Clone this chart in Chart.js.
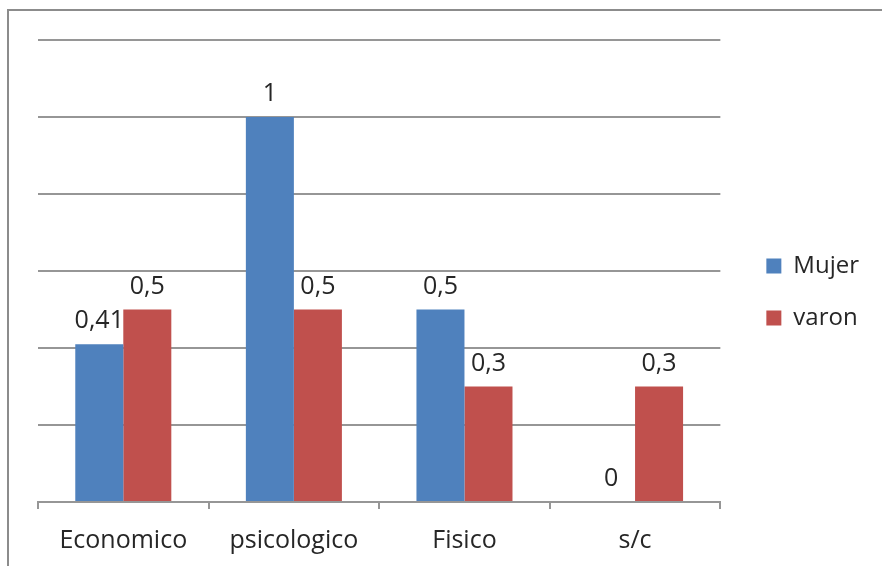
<!DOCTYPE html>
<html>
<head>
<meta charset="utf-8">
<script src="https://cdn.jsdelivr.net/npm/chart.js@4"></script>
<style>
  html, body { margin: 0; padding: 0; background: #fff; }
  #wrap { position: relative; width: 882px; height: 566px; overflow: hidden; }
  #frame { position: absolute; left: 7px; top: 9px; width: 900px; height: 600px;
           border-top: 2px solid #8c8c8c; border-left: 2px solid #8c8c8c; }
  canvas { position: absolute; left: 0; top: 0; }
</style>
</head>
<body>
<div id="wrap">
  <div id="frame"></div>
  <canvas id="myChart" width="882" height="566"></canvas>
</div>
<script>
const categories = ['Economico', 'psicologico', 'Fisico', 's/c'];
const mujer = [0.41, 1, 0.5, 0];
const varon = [0.5, 0.5, 0.3, 0.3];
const yTicks = [0, 0.2, 0.4, 0.6, 0.8, 1, 1.2];

const gridColor = '#969696';
const textColor = '#262626';
const fontFamily = '"Open Sans", "DejaVu Sans", sans-serif';

// write values above each bar, with a decimal comma
const valueLabels = {
  id: 'valueLabels',
  afterDatasetsDraw(chart) {
    const ctx = chart.ctx;
    ctx.save();
    ctx.font = '25px ' + fontFamily;
    ctx.fillStyle = textColor;
    ctx.textAlign = 'center';
    ctx.textBaseline = 'alphabetic';
    chart.data.datasets.forEach((ds, i) => {
      chart.getDatasetMeta(i).data.forEach((bar, j) => {
        const text = String(ds.data[j]).replace('.', ',');
        ctx.fillText(text, bar.x, bar.y - 16);
      });
    });
    ctx.restore();
  }
};

new Chart(document.getElementById('myChart').getContext('2d'), {
  type: 'bar',
  data: {
    labels: categories,
    datasets: [{
      label: 'Mujer',
      data: mujer,
      backgroundColor: '#4F81BD',
      borderWidth: 0
    }, {
      label: 'varon',
      data: varon,
      backgroundColor: '#C0504D',
      borderWidth: 0
    }]
  },
  options: {
    responsive: false,
    animation: false,
    datasets: {
      bar: { categoryPercentage: 0.563, barPercentage: 1 }
    },
    layout: {
      padding: { left: 38, right: 13, top: 40, bottom: 0 }
    },
    plugins: {
      tooltip: { enabled: false },
      legend: {
        position: 'right',
        fullSize: false,
        // empty title only pushes the items down a little
        title: { display: true, text: '', padding: 0, font: { size: 42, lineHeight: 1 } },
        labels: {
          boxWidth: 15,
          boxHeight: 15,
          padding: 28,
          color: textColor,
          font: { family: fontFamily, size: 24 }
        }
      }
    },
    scales: {
      x: {
        offset: true,
        grid: {
          drawOnChartArea: false,
          drawTicks: true,
          tickLength: 7,
          color: gridColor,
          lineWidth: 2
        },
        border: { display: true, color: gridColor, width: 2 },
        ticks: {
          padding: 29,
          maxRotation: 0,
          color: textColor,
          font: { family: fontFamily, size: 25, lineHeight: 0.25 }
        },
        afterFit: axis => { axis.height = 64; }
      },
      y: {
        min: 0,
        max: 1.2,
        afterBuildTicks: axis => { axis.ticks = yTicks.map(v => ({ value: v })); },
        grid: { color: gridColor, lineWidth: 2, drawTicks: false },
        border: { display: false },
        ticks: { display: false }
      },
      gap: {
        type: 'linear',
        position: 'right',
        grid: { display: false },
        border: { display: false },
        ticks: { display: false },
        afterFit: axis => { axis.width = 18; }
      }
    }
  },
  plugins: [valueLabels]
});
</script>
</body>
</html>
